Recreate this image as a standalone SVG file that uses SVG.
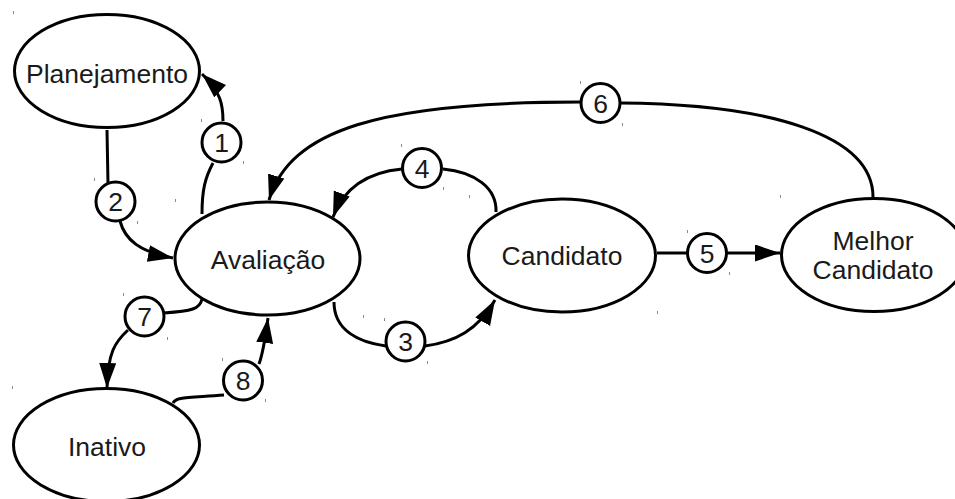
<svg xmlns="http://www.w3.org/2000/svg" width="955" height="499" viewBox="0 0 955 499">
<style>
.node ellipse{fill:#fff;stroke:#000;stroke-width:3}
.lbl circle{fill:#fff;stroke:#000;stroke-width:3}
text{font-family:"Liberation Sans",Arial,sans-serif;font-size:26.5px;fill:#1a1a1a;text-anchor:middle}
.edge{fill:none;stroke:#000;stroke-width:3}
.tick{stroke:#8a8a8a;stroke-width:1}
</style>
<defs>
<marker id="arr" markerUnits="userSpaceOnUse" markerWidth="27" markerHeight="18" refX="25" refY="8.5" orient="auto">
<path d="M0,0 L25,8.5 L0,17 z" fill="#000"/>
</marker>
</defs>
<g id="connectors">
<path class="edge" d="M202,214 C202,190 205,178 213,163"/>
<path class="edge" d="M223,121 C223,105 221,92 202,74" marker-end="url(#arr)"/>
<path class="edge" d="M107,130 L108,184"/>
<path class="edge" d="M120,221 C125,240 140,252 173,258" marker-end="url(#arr)"/>
<path class="edge" d="M334,302 C334,330 358,342 386,346"/>
<path class="edge" d="M425,346 C455,342 478,330 495,300" marker-end="url(#arr)"/>
<path class="edge" d="M443,169 C475,172 497,188 496,212"/>
<path class="edge" d="M402,169 C370,172 345,185 333,217" marker-end="url(#arr)"/>
<path class="edge" d="M657,253 L687,253"/>
<path class="edge" d="M727,253 L780,253" marker-end="url(#arr)"/>
<path class="edge" d="M620,103 C770,104 873,135 873,197"/>
<path class="edge" d="M580,102 C380,102 290,130 269,200" marker-end="url(#arr)"/>
<path class="edge" d="M202,299 C200,309 192,311 164,313"/>
<path class="edge" d="M128,330 C115,342 108,352 107,388" marker-end="url(#arr)"/>
<path class="edge" d="M173,403 C176,397 185,398 224,395"/>
<path class="edge" d="M259,364 C262,356 264,348 268,318" marker-end="url(#arr)"/>
</g>
<g id="planejamento" class="node"><ellipse cx="107" cy="71" rx="92.5" ry="56.5"/><text x="107" y="83">Planejamento</text></g>
<g id="avaliacao" class="node"><ellipse cx="267.5" cy="258.5" rx="92.5" ry="56.5"/><text x="268" y="269">Avaliação</text></g>
<g id="candidato" class="node"><ellipse cx="562" cy="255.5" rx="93.5" ry="56.5"/><text x="562" y="265">Candidato</text></g>
<g id="melhor" class="node"><ellipse cx="874" cy="255" rx="92.5" ry="56.5"/><text x="873" y="250">Melhor</text><text x="873" y="279">Candidato</text></g>
<g id="inativo" class="node"><ellipse cx="106.5" cy="445" rx="93" ry="56.5"/><text x="107" y="456">Inativo</text></g>
<g id="lbl1" class="lbl"><circle cx="221.5" cy="142.5" r="19.5"/><text x="221.5" y="152">1</text></g>
<g id="lbl2" class="lbl"><circle cx="115.5" cy="201.5" r="19.5"/><text x="115.5" y="211">2</text></g>
<g id="lbl3" class="lbl"><circle cx="405.5" cy="341.5" r="19.5"/><text x="405.5" y="351">3</text></g>
<g id="lbl4" class="lbl"><circle cx="422" cy="168" r="19.5"/><text x="422" y="177.5">4</text></g>
<g id="lbl5" class="lbl"><circle cx="707" cy="253" r="19.5"/><text x="707" y="262.5">5</text></g>
<g id="lbl6" class="lbl"><circle cx="600.5" cy="103" r="19.5"/><text x="600.5" y="112.5">6</text></g>
<g id="lbl7" class="lbl"><circle cx="144.5" cy="316.5" r="19.5"/><text x="144.5" y="326">7</text></g>
<g id="lbl8" class="lbl"><circle cx="243" cy="380.5" r="19.5"/><text x="243" y="390">8</text></g>
<g id="ticks" class="tick">
<path d="M13.5,11v3M201.5,119v3M243.5,161v3M94.5,178v3M137.5,221v3M175.5,199v3M363.5,315v3M401.5,144v3M443.5,187v3M469.5,195v3M657.5,311v3M384.5,318v3M427.5,361v3M580.5,81v3M622.5,123v3M687.5,230v3M729.5,272v3M780.5,195v3M123.5,293v3M167.5,337v3M222.5,358v3M265.5,399v3M12.5,386v3"/>
</g>
</svg>
